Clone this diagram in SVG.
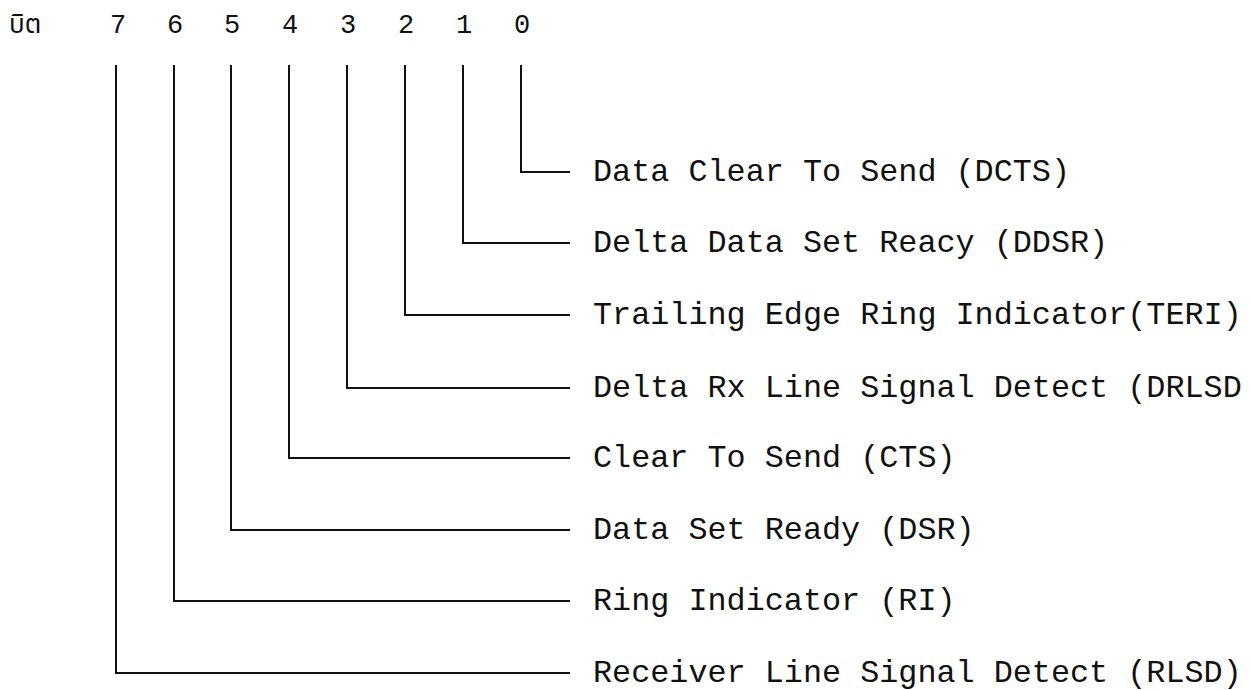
<svg xmlns="http://www.w3.org/2000/svg" width="1251" height="690" viewBox="0 0 1251 690">
  <style>
    .lbl { font-family: "Liberation Mono", "DejaVu Sans Mono", monospace; font-size: 31.8px; fill: #111; }
    .dig { font-family: "Liberation Mono", "DejaVu Sans Mono", monospace; font-size: 27px; fill: #111; text-anchor: middle; }
    .th { font-family: "Noto Sans Thai", "Noto Sans", "DejaVu Sans", sans-serif; font-size: 26px; fill: #111; }
    .wire { fill: none; stroke: #111; stroke-width: 2; stroke-linejoin: miter; }
  </style>
  <rect width="1251" height="690" fill="#ffffff"/>
  <g id="header">
    <text class="th" x="9" y="33">บิต</text>
    <text class="dig" x="118" y="33">7</text>
    <text class="dig" x="175" y="33">6</text>
    <text class="dig" x="232" y="33">5</text>
    <text class="dig" x="290" y="33">4</text>
    <text class="dig" x="348" y="33">3</text>
    <text class="dig" x="406" y="33">2</text>
    <text class="dig" x="464" y="33">1</text>
    <text class="dig" x="522" y="33">0</text>
  </g>
  <g id="connectors">
    <path class="wire" d="M521 65 V172 H570"/>
    <path class="wire" d="M463 65 V243 H570"/>
    <path class="wire" d="M405 65 V315 H570"/>
    <path class="wire" d="M347 65 V388 H570"/>
    <path class="wire" d="M289 65 V458 H570"/>
    <path class="wire" d="M231 65 V530 H570"/>
    <path class="wire" d="M174 65 V601 H570"/>
    <path class="wire" d="M116 65 V673 H570"/>
  </g>
  <g id="bit0"><text class="lbl" x="593" y="181">Data Clear To Send (DCTS)</text></g>
  <g id="bit1"><text class="lbl" x="593" y="252">Delta Data Set Reacy (DDSR)</text></g>
  <g id="bit2"><text class="lbl" x="593" y="324">Trailing Edge Ring Indicator(TERI)</text></g>
  <g id="bit3"><text class="lbl" x="593" y="397">Delta Rx Line Signal Detect (DRLSD</text></g>
  <g id="bit4"><text class="lbl" x="593" y="467">Clear To Send (CTS)</text></g>
  <g id="bit5"><text class="lbl" x="593" y="539">Data Set Ready (DSR)</text></g>
  <g id="bit6"><text class="lbl" x="593" y="610">Ring Indicator (RI)</text></g>
  <g id="bit7"><text class="lbl" x="593" y="682">Receiver Line Signal Detect (RLSD)</text></g>
</svg>
